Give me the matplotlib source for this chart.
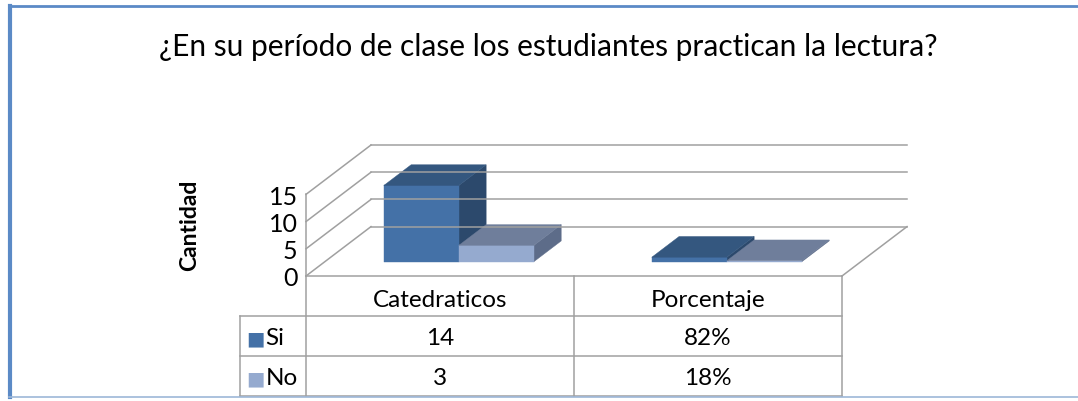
import matplotlib
matplotlib.use("Agg")
import matplotlib.pyplot as plt
from matplotlib.patches import Polygon
from matplotlib.lines import Line2D

plt.rcParams['font.family'] = ['Lato', 'DejaVu Sans']

# data
categories = ["Catedraticos", "Porcentaje"]
series = ["Si", "No"]
si_values = [14, 0.82]
no_values = [3, 0.18]
si_labels = ["14", "82%"]
no_labels = ["3", "18%"]
yticks = [0, 5, 10, 15]
title = "¿En su período de clase los estudiantes practican la lectura?"

# colours (front, top, side)
si_cols = ("#4471a7", "#34577f", "#2c496c")
no_cols = ("#95aacf", "#6f7e9b", "#5d6c89")
grid_col = "#a0a0a0"

W, H = 1078, 402
fig = plt.figure(figsize=(W / 100, H / 100), dpi=100)

# 3d-ish depth offset in data units
DX = 65 / 268
DY = 49 / 5.4
YMAX = 15
F0, F1 = 0.29, 0.71   # bar front / back depth fraction

ax = fig.add_axes([306 / W, (H - 277) / H, (907 - 306) / W, (277 - 146) / H])
ax.set_xlim(0, len(categories) + DX)
ax.set_ylim(0, YMAX + DY)
for s in ax.spines.values():
    s.set_visible(False)
ax.set_xticks([])
ax.set_yticks(yticks)
ax.tick_params(axis="y", length=0, pad=6, labelsize=18)
ax.patch.set_alpha(0)

def line(xs, ys):
    ax.add_line(Line2D(xs, ys, color=grid_col, lw=1.1, clip_on=False))

n = len(categories)
for v in yticks:
    line([0, DX], [v, v + DY])
    line([DX, n + DX], [v + DY, v + DY])
line([0, 0], [0, YMAX])
line([0, n], [0, 0])
line([n, n + DX], [0, DY])


def box(x0, x1, v, cols):
    def p(x, f, h):
        return (x + f * DX, h + f * DY)
    front = [p(x0, F0, 0), p(x1, F0, 0), p(x1, F0, v), p(x0, F0, v)]
    top = [p(x0, F0, v), p(x1, F0, v), p(x1, F1, v), p(x0, F1, v)]
    side = [p(x1, F0, 0), p(x1, F1, 0), p(x1, F1, v), p(x1, F0, v)]
    for pts, c in zip([side, front, top], [cols[2], cols[0], cols[1]]):
        ax.add_patch(Polygon(pts, closed=True, facecolor=c, edgecolor=c,
                             lw=0.3, clip_on=False))

for i in range(n):
    box(i + 0.22, i + 0.50, si_values[i], si_cols)
    box(i + 0.50, i + 0.78, no_values[i], no_cols)

# data table
XL = -66 / 268
tx = fig.add_axes([240 / W, (H - 397) / H, (842 - 240) / W, (397 - 277) / H])
tx.set_xlim(XL, n)
tx.set_ylim(3, 0)
tx.axis("off")

def tline(xs, ys):
    tx.add_line(Line2D(xs, ys, color=grid_col, lw=1.1, clip_on=False))

for i in range(n + 1):
    tline([i, i], [0, 3])
for r in (1, 2, 3):
    tline([XL, n], [r, r])
tline([XL, XL], [1, 3])

for i, c in enumerate(categories):
    tx.text(i + 0.5, 0.58, c, ha="center", va="center", fontsize=17.5)
rows = [si_labels, no_labels]
cols = [si_cols[0], no_cols[0]]
for r, (name, labs, c) in enumerate(zip(series, rows, cols)):
    y = r + 1.55
    tx.text(XL + 0.025, y, "\u25a0", ha="left", va="center", fontsize=14,
            color=c, family="DejaVu Sans")
    tx.text(XL + 0.095, y, name, ha="left", va="center", fontsize=17.5)
    for i, lab in enumerate(labs):
        tx.text(i + 0.5, y, lab, ha="center", va="center", fontsize=17.5)

fig.text(548 / W, 1 - 47 / H, title, ha="center", va="center", fontsize=21.5)
fig.text(190 / W, 1 - 225 / H, "Cantidad", ha="center", va="center",
         rotation=90, fontsize=16.5, fontweight="bold")

# outer frame
fig.add_artist(Line2D([10 / W, 10 / W], [1 - 7 / H, 1 - 398 / H],
                      transform=fig.transFigure, color="#5b8ac6", lw=3))
fig.add_artist(Line2D([9 / W, 1], [1 - 7 / H, 1 - 7 / H],
                      transform=fig.transFigure, color="#5b8ac6", lw=2))
fig.add_artist(Line2D([9 / W, 1], [1 - 398 / H, 1 - 398 / H],
                      transform=fig.transFigure, color="#9db7d8", lw=1.2))

fig.savefig("out.png", dpi=100)
